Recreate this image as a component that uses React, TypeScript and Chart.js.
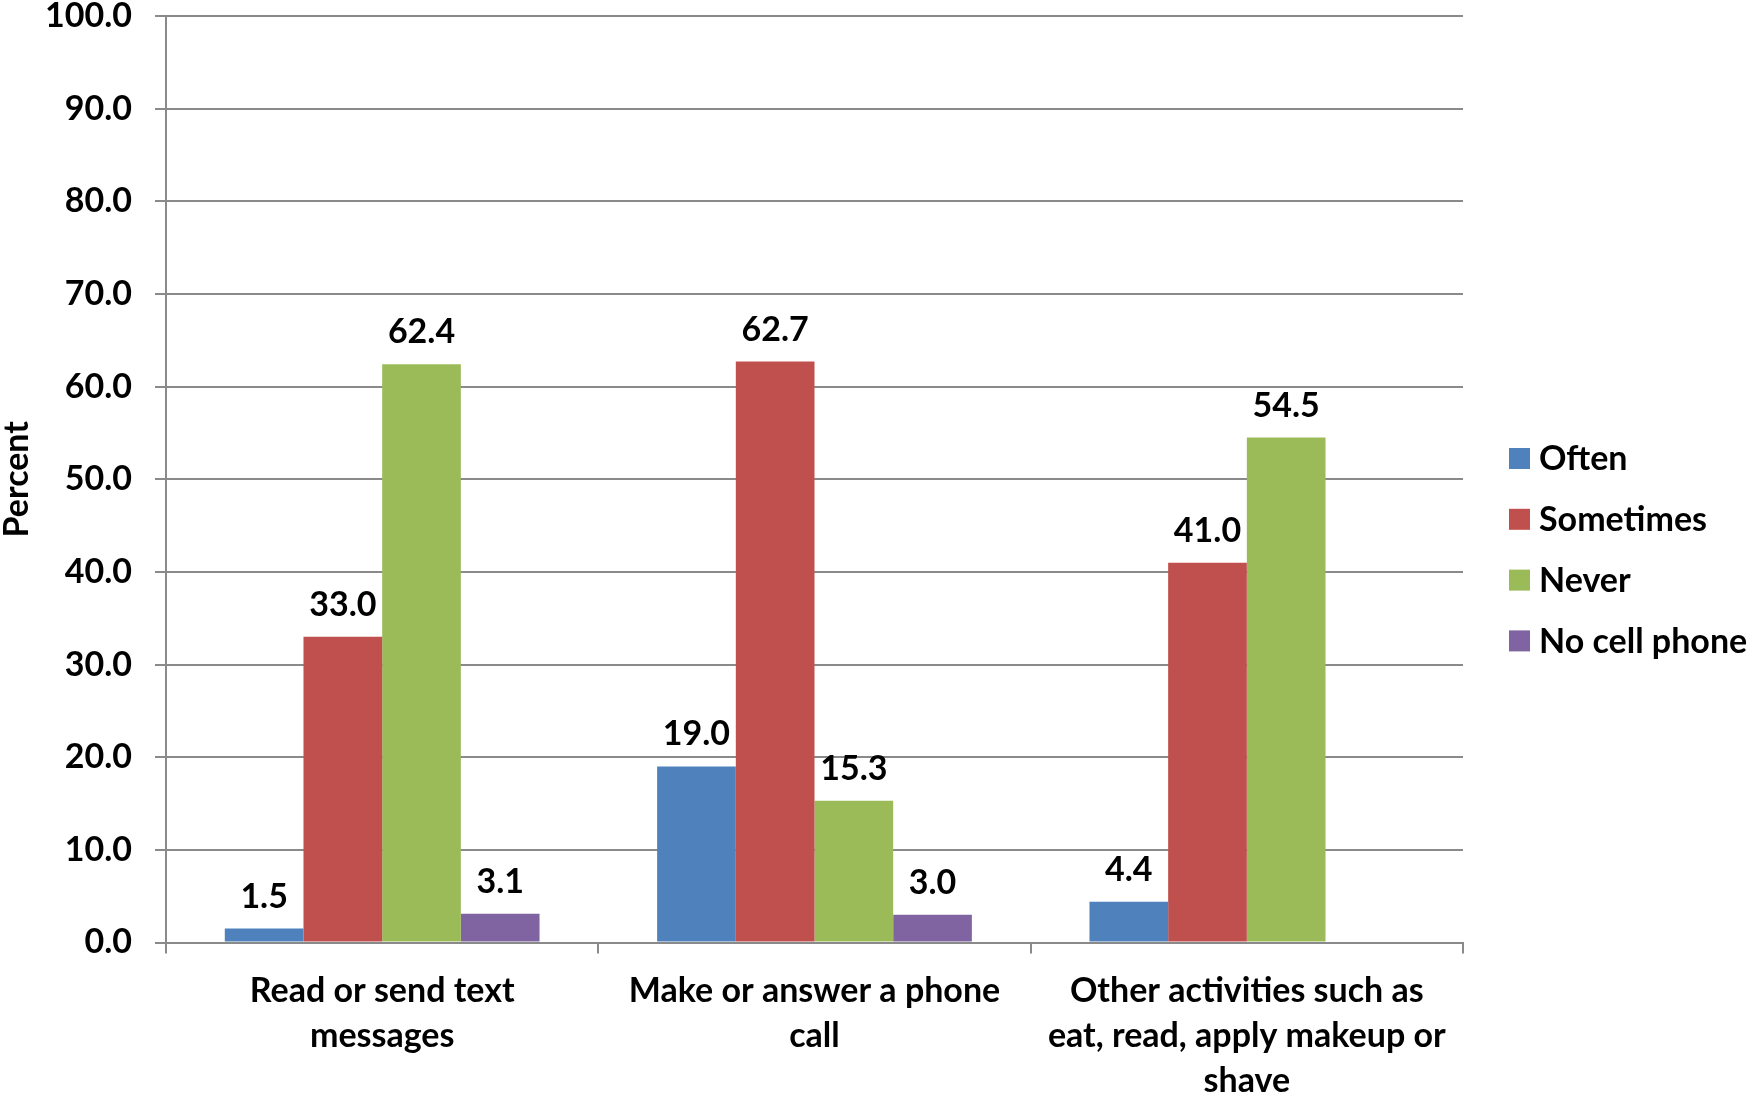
import React, { useEffect, useRef } from "react";
import { Chart, registerables } from "chart.js";

Chart.register(...registerables);

// ---- Data ----
const categories: string[][] = [
  ["Read or send text", "messages"],
  ["Make or answer a phone", "call"],
  ["Other activities such as", "eat, read, apply makeup or", "shave"],
];
const seriesNames = ["Often", "Sometimes", "Never", "No cell phone"];
const often = [1.5, 19.0, 4.4];
const sometimes = [33.0, 62.7, 41.0];
const never = [62.4, 15.3, 54.5];
const noCellPhone: (number | null)[] = [3.1, 3.0, null];
const yMin = 0;
const yMax = 100;
const yStep = 10;
const yTitle = "Percent";

// ---- Style ----
const colors = ["#4F81BD", "#C0504D", "#9BBB59", "#8064A2"];
const FONT = "Lato";
const FS = 34;
const GRID = "#8a8a8a";

const W = 1752;
const H = 1101;

const valueLabels = {
  id: "valueLabels",
  afterDatasetsDraw(chart: any) {
    const ctx = chart.ctx;
    ctx.save();
    ctx.font = `bold ${FS}px ${FONT}`;
    ctx.fillStyle = "#000";
    ctx.textAlign = "center";
    ctx.textBaseline = "middle";
    chart.data.datasets.forEach((ds: any, i: number) => {
      const meta = chart.getDatasetMeta(i);
      meta.data.forEach((bar: any, j: number) => {
        const v = ds.data[j];
        if (v === null || v === undefined) return;
        ctx.fillText(Number(v).toFixed(1), bar.x, bar.y - 32);
      });
    });
    ctx.restore();
  },
};

const sideLegend = {
  id: "sideLegend",
  afterDraw(chart: any) {
    const ctx = chart.ctx;
    ctx.save();
    ctx.font = `bold ${FS}px ${FONT}`;
    ctx.textAlign = "left";
    ctx.textBaseline = "middle";
    const boxX = 1509;
    const box = 21;
    const textX = 1539;
    const y0 = 458.5;
    const dy = 60.8;
    chart.data.datasets.forEach((ds: any, i: number) => {
      const cy = y0 + i * dy;
      ctx.fillStyle = ds.backgroundColor;
      ctx.fillRect(boxX, cy - box / 2, box, box);
      ctx.fillStyle = "#000";
      ctx.fillText(ds.label, textX, cy + 1);
    });
    ctx.restore();
  },
};

export default function App() {
  const ref = useRef<HTMLCanvasElement>(null);

  useEffect(() => {
    let chart: Chart | null = null;
    let cancelled = false;
    const make = () => {
      if (cancelled || !ref.current) return;
      const seriesData = [often, sometimes, never, noCellPhone];
      chart = new Chart(ref.current, {
        type: "bar",
        data: {
          labels: categories as any,
          datasets: seriesNames.map((name, i) => ({
            label: name,
            data: seriesData[i] as any,
            backgroundColor: colors[i],
            borderWidth: 0,
            barPercentage: 1,
            categoryPercentage: 0.728,
          })),
        },
        options: {
          responsive: false,
          animation: false,
          devicePixelRatio: 1,
          layout: { padding: { top: 16, right: W - 1463, bottom: 0, left: 0 } },
          plugins: {
            legend: { display: false },
            tooltip: { enabled: false },
          },
          scales: {
            x: {
              offset: true,
              grid: {
                display: true,
                drawOnChartArea: false,
                drawTicks: true,
                tickLength: 11,
                color: GRID,
                lineWidth: 2,
                offset: true,
              },
              border: { display: true, color: GRID, width: 2 },
              ticks: {
                color: "#000",
                font: { family: FONT, size: FS, weight: "bold", lineHeight: 45 / FS },
                padding: 15,
                maxRotation: 0,
                minRotation: 0,
                autoSkip: false,
              },
              afterFit(scale: any) {
                scale.height = H - 942.5;
                scale.paddingLeft = 0;
                scale.paddingRight = 0;
              },
            },
            y: {
              min: yMin,
              max: yMax,
              grid: {
                color: GRID,
                lineWidth: 2,
                drawTicks: true,
                tickLength: 11,
              },
              border: { display: true, color: GRID, width: 2 },
              ticks: {
                stepSize: yStep,
                color: "#000",
                font: { family: FONT, size: FS, weight: "bold" },
                padding: 23,
                callback: (v: any) => Number(v).toFixed(1),
              },
              title: {
                display: true,
                text: yTitle,
                color: "#000",
                font: { family: FONT, size: FS, weight: "bold", lineHeight: 1.0 },
                padding: 0,
              },
              afterFit(scale: any) {
                scale.width = 166;
                scale.paddingTop = 0;
                scale.paddingBottom = 0;
              },
            },
          },
        },
        plugins: [valueLabels, sideLegend],
      });
    };
    const fonts: any = (document as any).fonts;
    if (fonts && fonts.load) {
      fonts.load(`bold ${FS}px ${FONT}`).then(make, make);
    } else {
      make();
    }
    return () => {
      cancelled = true;
      if (chart) chart.destroy();
    };
  }, []);

  return (
    <div style={{ position: "fixed", left: 0, top: 0, width: W, height: H, background: "#fff" }}>
      <canvas ref={ref} width={W} height={H} style={{ display: "block", width: W, height: H }} />
    </div>
  );
}
